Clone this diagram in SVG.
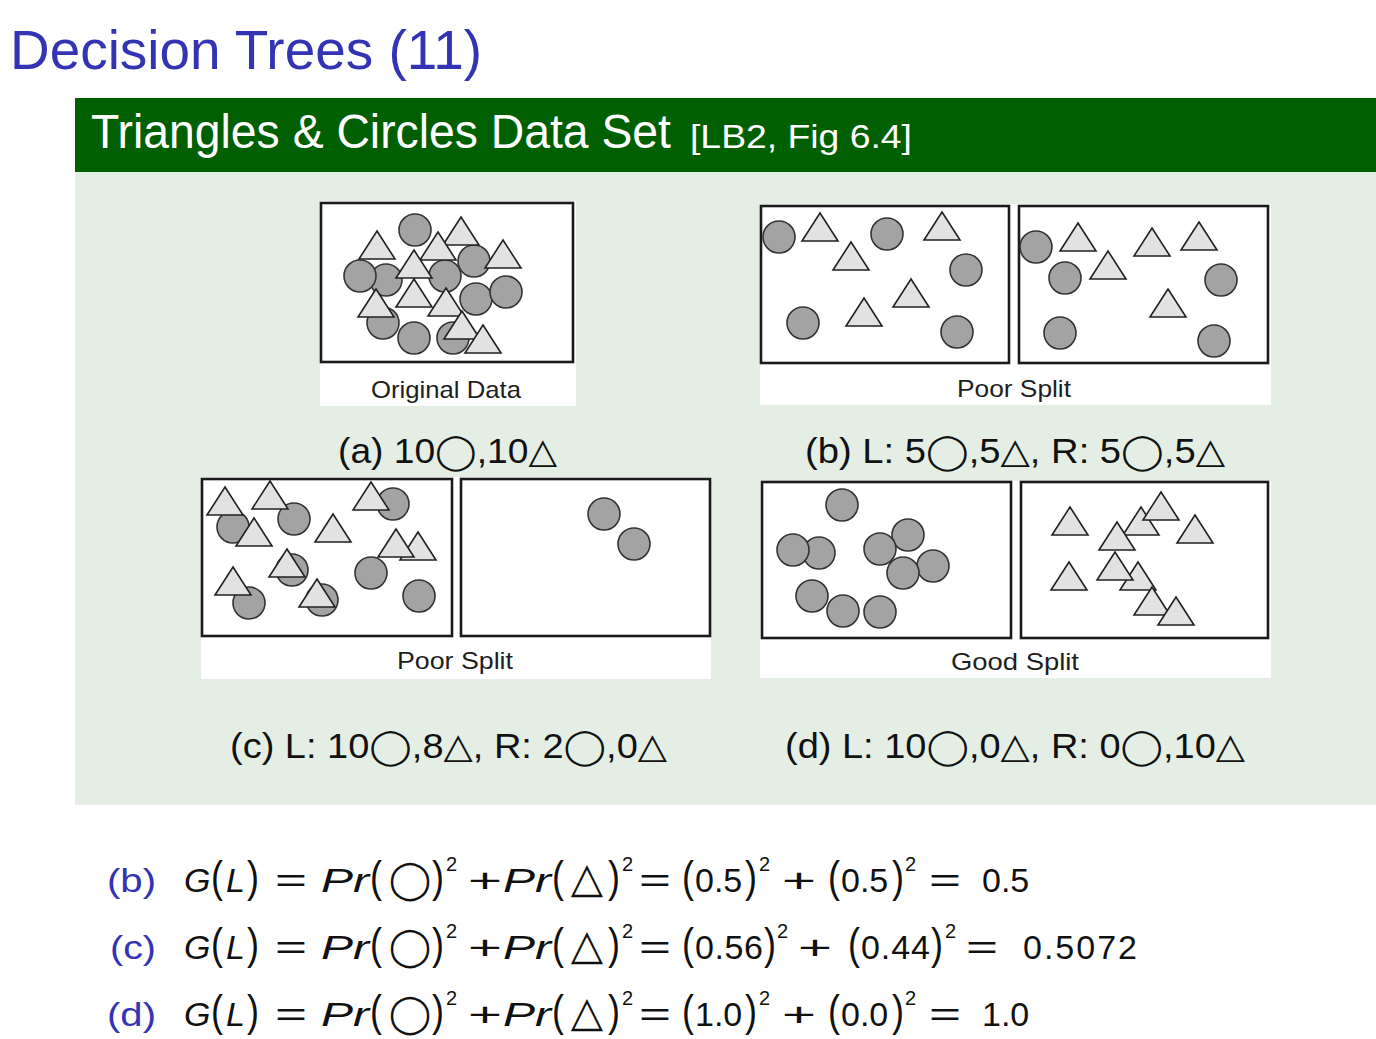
<svg xmlns="http://www.w3.org/2000/svg" xmlns:xlink="http://www.w3.org/1999/xlink" width="1376" height="1039" viewBox="0 0 1376 1039">
<style>
.txt{font-family:"Liberation Sans","DejaVu Sans",sans-serif}
.c{fill:#a3a3a3;stroke:#333;stroke-width:1.6}
.t{fill:#e2e2e2;stroke:#222;stroke-width:1.6;stroke-linejoin:miter}
.box{fill:#fff;stroke:#1a1a1a;stroke-width:2.6}
.bg{fill:#fff}
.plab{font-family:"Liberation Sans","DejaVu Sans",sans-serif;font-size:24px;fill:#1e1e1e;text-anchor:middle}
.cap{font-family:"Liberation Sans","DejaVu Sans",sans-serif;font-size:35px;fill:#111}
.m{font-family:"Liberation Sans","DejaVu Sans",sans-serif;font-size:34px;fill:#111}
.i{font-style:italic}
.p{font-family:"Liberation Sans",sans-serif;font-size:44px;fill:#111}
.s{font-family:"Liberation Sans",sans-serif;font-size:20px;fill:#111}
.op{font-family:"Liberation Sans",sans-serif;font-size:34px;fill:#111}
.sym{font-family:"DejaVu Sans",sans-serif;font-size:38px;fill:#111;text-anchor:middle}
.sym2{font-family:"DejaVu Sans",sans-serif;font-size:42px;fill:#111;text-anchor:middle}
.bl{font-family:"Liberation Sans",sans-serif;font-size:34px;fill:#3333b3}
</style>
<defs>
<path id="tri" class="t" d="M0,0 L18,28 L-18,28 Z"/>
<linearGradient id="gd" x1="0" y1="0" x2="1" y2="1">
<stop offset="0" stop-color="#cdcdcd"/>
<stop offset="0.6" stop-color="#fbfbfb"/>
<stop offset="1" stop-color="#ffffff"/>
</linearGradient>
<linearGradient id="gd2" x1="0" y1="0" x2="1" y2="1">
<stop offset="0" stop-color="#e8e8e8"/>
<stop offset="0.35" stop-color="#ffffff"/>
<stop offset="1" stop-color="#ffffff"/>
</linearGradient>
</defs>

<rect width="1376" height="1039" fill="#fff"/>

<g id="title">
<text class="txt" x="10" y="69" font-size="56" fill="#3333b3" textLength="472" lengthAdjust="spacingAndGlyphs">Decision Trees (11)</text>
</g>

<g id="block">
<rect x="75" y="98" width="1301" height="74" fill="#005f00"/>
<rect x="75" y="172" width="1301" height="633" fill="#e4eee4"/>
<text class="txt" x="91" y="148" font-size="48" fill="#fff" textLength="580" lengthAdjust="spacingAndGlyphs">Triangles &amp; Circles Data Set</text>
<text class="txt" x="690" y="148" font-size="34" fill="#fff" textLength="222" lengthAdjust="spacingAndGlyphs">[LB2, Fig 6.4]</text>
</g>

<g id="panel-a">
<rect class="bg" x="320" y="201" width="256" height="205"/>
<rect class="box" x="321" y="203" width="252" height="159"/>
<circle class="c" cx="415" cy="230" r="16"/>
<circle class="c" cx="386" cy="280" r="16"/>
<circle class="c" cx="360" cy="276" r="16"/>
<circle class="c" cx="445" cy="276" r="16"/>
<circle class="c" cx="474" cy="261" r="16"/>
<circle class="c" cx="476" cy="299" r="16"/>
<circle class="c" cx="506" cy="292" r="16"/>
<circle class="c" cx="383" cy="323" r="16"/>
<circle class="c" cx="414" cy="338" r="16"/>
<circle class="c" cx="453" cy="338" r="16"/>
<use href="#tri" x="377" y="231"/>
<use href="#tri" x="461" y="217"/>
<use href="#tri" x="438" y="232"/>
<use href="#tri" x="414" y="250"/>
<use href="#tri" x="503" y="240"/>
<use href="#tri" x="376" y="289"/>
<use href="#tri" x="414" y="279"/>
<use href="#tri" x="446" y="288"/>
<use href="#tri" x="462" y="311"/>
<use href="#tri" x="483" y="325"/>
<text class="plab" x="446" y="398" textLength="150" lengthAdjust="spacingAndGlyphs">Original Data</text>
<text class="cap" x="338" y="463" textLength="219" lengthAdjust="spacingAndGlyphs">(a) 10◯,10△</text>
</g>

<g id="panel-b">
<rect class="bg" x="760" y="204" width="511" height="201"/>
<rect class="box" x="761" y="206" width="248" height="157"/>
<rect class="box" x="1019" y="206" width="249" height="157"/>
<circle class="c" cx="779" cy="237" r="16"/>
<circle class="c" cx="887" cy="234" r="16"/>
<circle class="c" cx="966" cy="270" r="16"/>
<circle class="c" cx="803" cy="323" r="16"/>
<circle class="c" cx="957" cy="332" r="16"/>
<use href="#tri" x="820" y="213"/>
<use href="#tri" x="942" y="212"/>
<use href="#tri" x="851" y="242"/>
<use href="#tri" x="911" y="279"/>
<use href="#tri" x="864" y="298"/>
<circle class="c" cx="1036" cy="247" r="16"/>
<circle class="c" cx="1065" cy="278" r="16"/>
<circle class="c" cx="1221" cy="280" r="16"/>
<circle class="c" cx="1060" cy="333" r="16"/>
<circle class="c" cx="1214" cy="341" r="16"/>
<use href="#tri" x="1078" y="223"/>
<use href="#tri" x="1152" y="228"/>
<use href="#tri" x="1199" y="222"/>
<use href="#tri" x="1108" y="251"/>
<use href="#tri" x="1168" y="289"/>
<text class="plab" x="1014" y="397" textLength="114" lengthAdjust="spacingAndGlyphs">Poor Split</text>
<text class="cap" x="805" y="463" textLength="420" lengthAdjust="spacingAndGlyphs">(b) L: 5◯,5△, R: 5◯,5△</text>
</g>

<g id="panel-c">
<rect class="bg" x="201" y="477" width="510" height="202"/>
<rect class="box" x="202" y="479" width="250" height="157"/>
<rect class="box" x="461" y="479" width="249" height="157"/>
<circle class="c" cx="233" cy="527" r="16"/>
<circle class="c" cx="294" cy="519" r="16"/>
<circle class="c" cx="393" cy="504" r="16"/>
<circle class="c" cx="292" cy="570" r="16"/>
<circle class="c" cx="371" cy="573" r="16"/>
<circle class="c" cx="249" cy="603" r="16"/>
<circle class="c" cx="322" cy="600" r="16"/>
<circle class="c" cx="419" cy="596" r="16"/>
<use href="#tri" x="225" y="487"/>
<use href="#tri" x="270" y="481"/>
<use href="#tri" x="371" y="482"/>
<use href="#tri" x="254" y="518"/>
<use href="#tri" x="333" y="514"/>
<use href="#tri" x="418" y="532"/>
<use href="#tri" x="396" y="529"/>
<use href="#tri" x="287" y="549"/>
<use href="#tri" x="233" y="567"/>
<use href="#tri" x="317" y="579"/>
<circle class="c" cx="604" cy="514" r="16"/>
<circle class="c" cx="634" cy="544" r="16"/>
<text class="plab" x="455" y="669" textLength="116" lengthAdjust="spacingAndGlyphs">Poor Split</text>
<text class="cap" x="230" y="758" textLength="437" lengthAdjust="spacingAndGlyphs">(c) L: 10◯,8△, R: 2◯,0△</text>
</g>

<g id="panel-d">
<rect class="bg" x="760" y="481" width="511" height="197"/>
<rect class="box" x="762" y="482" width="249" height="156" fill="url(#gd)"/>
<rect class="box" x="1021" y="482" width="247" height="156" fill="url(#gd2)"/>
<circle class="c" cx="842" cy="505" r="16"/>
<circle class="c" cx="819" cy="553" r="16"/>
<circle class="c" cx="793" cy="550" r="16"/>
<circle class="c" cx="908" cy="535" r="16"/>
<circle class="c" cx="880" cy="549" r="16"/>
<circle class="c" cx="933" cy="566" r="16"/>
<circle class="c" cx="903" cy="573" r="16"/>
<circle class="c" cx="812" cy="596" r="16"/>
<circle class="c" cx="843" cy="611" r="16"/>
<circle class="c" cx="880" cy="612" r="16"/>
<use href="#tri" x="1070" y="507"/>
<use href="#tri" x="1141" y="507"/>
<use href="#tri" x="1161" y="492"/>
<use href="#tri" x="1117" y="522"/>
<use href="#tri" x="1195" y="515"/>
<use href="#tri" x="1069" y="562"/>
<use href="#tri" x="1138" y="562"/>
<use href="#tri" x="1115" y="552"/>
<use href="#tri" x="1152" y="587"/>
<use href="#tri" x="1176" y="597"/>
<text class="plab" x="1015" y="670" textLength="128" lengthAdjust="spacingAndGlyphs">Good Split</text>
<text class="cap" x="785" y="758" textLength="460" lengthAdjust="spacingAndGlyphs">(d) L: 10◯,0△, R: 0◯,10△</text>
</g>

<g id="formula-b">
<text class="bl" x="107" y="892" textLength="49" lengthAdjust="spacingAndGlyphs">(b)</text>
<text class="m i" x="184" y="892">G</text>
<text class="p" x="211" y="892" textLength="12" lengthAdjust="spacingAndGlyphs">(</text>
<text class="m i" x="226" y="892">L</text>
<text class="p" x="247" y="892" textLength="12" lengthAdjust="spacingAndGlyphs">)</text>
<text class="op" x="275" y="892" textLength="32" lengthAdjust="spacingAndGlyphs">=</text>
<text class="m i" x="321" y="892" textLength="48" lengthAdjust="spacingAndGlyphs">Pr</text>
<text class="p" x="370" y="892" textLength="12" lengthAdjust="spacingAndGlyphs">(</text>
<text class="sym" x="410" y="892">◯</text>
<text class="p" x="432" y="892" textLength="12" lengthAdjust="spacingAndGlyphs">)</text>
<text class="s" x="446" y="871">2</text>
<text class="op" x="468" y="892" textLength="34" lengthAdjust="spacingAndGlyphs">+</text>
<text class="m i" x="503" y="892" textLength="48" lengthAdjust="spacingAndGlyphs">Pr</text>
<text class="p" x="552" y="892" textLength="12" lengthAdjust="spacingAndGlyphs">(</text>
<text class="sym2" x="587" y="892">△</text>
<text class="p" x="608" y="892" textLength="12" lengthAdjust="spacingAndGlyphs">)</text>
<text class="s" x="622" y="871">2</text>
<text class="op" x="639" y="892" textLength="32" lengthAdjust="spacingAndGlyphs">=</text>
<text class="p" x="682" y="892" textLength="12" lengthAdjust="spacingAndGlyphs">(</text>
<text class="m" x="695" y="892">0.5</text>
<text class="p" x="745" y="892" textLength="12" lengthAdjust="spacingAndGlyphs">)</text>
<text class="s" x="759" y="871">2</text>
<text class="op" x="782" y="892" textLength="34" lengthAdjust="spacingAndGlyphs">+</text>
<text class="p" x="828" y="892" textLength="12" lengthAdjust="spacingAndGlyphs">(</text>
<text class="m" x="841" y="892">0.5</text>
<text class="p" x="892" y="892" textLength="12" lengthAdjust="spacingAndGlyphs">)</text>
<text class="s" x="905" y="871">2</text>
<text class="op" x="929" y="892" textLength="32" lengthAdjust="spacingAndGlyphs">=</text>
<text class="m" x="982" y="892">0.5</text>
</g>

<g id="formula-c">
<text class="bl" x="110" y="959" textLength="46" lengthAdjust="spacingAndGlyphs">(c)</text>
<text class="m i" x="184" y="959">G</text>
<text class="p" x="211" y="959" textLength="12" lengthAdjust="spacingAndGlyphs">(</text>
<text class="m i" x="226" y="959">L</text>
<text class="p" x="247" y="959" textLength="12" lengthAdjust="spacingAndGlyphs">)</text>
<text class="op" x="275" y="959" textLength="32" lengthAdjust="spacingAndGlyphs">=</text>
<text class="m i" x="321" y="959" textLength="48" lengthAdjust="spacingAndGlyphs">Pr</text>
<text class="p" x="370" y="959" textLength="12" lengthAdjust="spacingAndGlyphs">(</text>
<text class="sym" x="410" y="959">◯</text>
<text class="p" x="432" y="959" textLength="12" lengthAdjust="spacingAndGlyphs">)</text>
<text class="s" x="446" y="938">2</text>
<text class="op" x="468" y="959" textLength="34" lengthAdjust="spacingAndGlyphs">+</text>
<text class="m i" x="503" y="959" textLength="48" lengthAdjust="spacingAndGlyphs">Pr</text>
<text class="p" x="552" y="959" textLength="12" lengthAdjust="spacingAndGlyphs">(</text>
<text class="sym2" x="587" y="959">△</text>
<text class="p" x="608" y="959" textLength="12" lengthAdjust="spacingAndGlyphs">)</text>
<text class="s" x="622" y="938">2</text>
<text class="op" x="639" y="959" textLength="32" lengthAdjust="spacingAndGlyphs">=</text>
<text class="p" x="682" y="959" textLength="12" lengthAdjust="spacingAndGlyphs">(</text>
<text class="m" x="695" y="959" textLength="68" lengthAdjust="spacing">0.56</text>
<text class="p" x="764" y="959" textLength="12" lengthAdjust="spacingAndGlyphs">)</text>
<text class="s" x="777" y="938">2</text>
<text class="op" x="798" y="959" textLength="34" lengthAdjust="spacingAndGlyphs">+</text>
<text class="p" x="848" y="959" textLength="12" lengthAdjust="spacingAndGlyphs">(</text>
<text class="m" x="861" y="959" textLength="69" lengthAdjust="spacing">0.44</text>
<text class="p" x="931" y="959" textLength="12" lengthAdjust="spacingAndGlyphs">)</text>
<text class="s" x="945" y="938">2</text>
<text class="op" x="966" y="959" textLength="32" lengthAdjust="spacingAndGlyphs">=</text>
<text class="m" x="1023" y="959" textLength="114" lengthAdjust="spacing">0.5072</text>
</g>

<g id="formula-d">
<text class="bl" x="107" y="1026" textLength="49" lengthAdjust="spacingAndGlyphs">(d)</text>
<text class="m i" x="184" y="1026">G</text>
<text class="p" x="211" y="1026" textLength="12" lengthAdjust="spacingAndGlyphs">(</text>
<text class="m i" x="226" y="1026">L</text>
<text class="p" x="247" y="1026" textLength="12" lengthAdjust="spacingAndGlyphs">)</text>
<text class="op" x="275" y="1026" textLength="32" lengthAdjust="spacingAndGlyphs">=</text>
<text class="m i" x="321" y="1026" textLength="48" lengthAdjust="spacingAndGlyphs">Pr</text>
<text class="p" x="370" y="1026" textLength="12" lengthAdjust="spacingAndGlyphs">(</text>
<text class="sym" x="410" y="1026">◯</text>
<text class="p" x="432" y="1026" textLength="12" lengthAdjust="spacingAndGlyphs">)</text>
<text class="s" x="446" y="1005">2</text>
<text class="op" x="468" y="1026" textLength="34" lengthAdjust="spacingAndGlyphs">+</text>
<text class="m i" x="503" y="1026" textLength="48" lengthAdjust="spacingAndGlyphs">Pr</text>
<text class="p" x="552" y="1026" textLength="12" lengthAdjust="spacingAndGlyphs">(</text>
<text class="sym2" x="587" y="1026">△</text>
<text class="p" x="608" y="1026" textLength="12" lengthAdjust="spacingAndGlyphs">)</text>
<text class="s" x="622" y="1005">2</text>
<text class="op" x="639" y="1026" textLength="32" lengthAdjust="spacingAndGlyphs">=</text>
<text class="p" x="682" y="1026" textLength="12" lengthAdjust="spacingAndGlyphs">(</text>
<text class="m" x="695" y="1026">1.0</text>
<text class="p" x="745" y="1026" textLength="12" lengthAdjust="spacingAndGlyphs">)</text>
<text class="s" x="759" y="1005">2</text>
<text class="op" x="782" y="1026" textLength="34" lengthAdjust="spacingAndGlyphs">+</text>
<text class="p" x="828" y="1026" textLength="12" lengthAdjust="spacingAndGlyphs">(</text>
<text class="m" x="841" y="1026">0.0</text>
<text class="p" x="892" y="1026" textLength="12" lengthAdjust="spacingAndGlyphs">)</text>
<text class="s" x="905" y="1005">2</text>
<text class="op" x="929" y="1026" textLength="32" lengthAdjust="spacingAndGlyphs">=</text>
<text class="m" x="982" y="1026">1.0</text>
</g>
</svg>
